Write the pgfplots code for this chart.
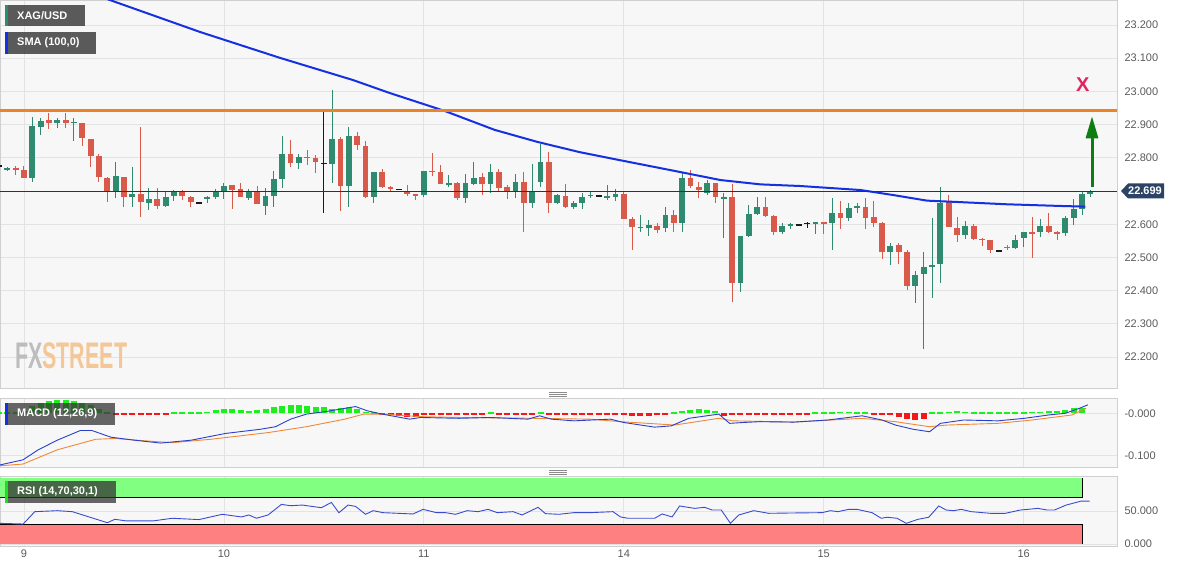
\documentclass[border=0pt]{standalone}
\usepackage{fontspec}
\setmainfont{Liberation Sans}
\usepackage{pgfplots}
\pgfplotsset{compat=1.18}
\usepackage{pgfplotstable}
\usetikzlibrary{arrows.meta}

\definecolor{bg}{HTML}{F7F7F7}
\definecolor{gridc}{HTML}{E3E3E3}
\definecolor{axc}{HTML}{CFCFCF}
\definecolor{cup}{HTML}{2E8B6F}
\definecolor{cdn}{HTML}{D9594A}
\definecolor{cneu}{HTML}{1A1A1A}
\definecolor{smac}{HTML}{1530E0}
\definecolor{orl}{HTML}{EB8429}
\definecolor{navy}{HTML}{1E3556}
\definecolor{lblbox}{HTML}{2B4465}
\definecolor{tickc}{HTML}{5A5A5A}
\definecolor{hgreen}{HTML}{1CF01C}
\definecolor{hred}{HTML}{F01818}
\definecolor{macdb}{HTML}{2A3FCC}
\definecolor{macdo}{HTML}{F0883A}
\definecolor{rsib}{HTML}{3A4BD0}
\definecolor{rsigreen}{HTML}{80FF80}
\definecolor{rsired}{HTML}{FF8080}
\definecolor{boxc}{HTML}{333333}
\definecolor{xmark}{HTML}{E0245E}
\definecolor{arrowg}{HTML}{0E7E12}
\definecolor{stripeg}{HTML}{22DD22}
\definecolor{handlec}{HTML}{8C8C8C}
\definecolor{wmgray}{HTML}{BDBDBD}
\definecolor{wmorange}{HTML}{F3C797}

\pgfplotstableread{
k o h l c
-3 22.776 22.779 22.773 22.776
-2 22.765 22.772 22.760 22.768
-1 22.768 22.775 22.748 22.764
0 22.763 22.776 22.738 22.740
1 22.738 22.922 22.726 22.896
2 22.894 22.919 22.868 22.912
3 22.914 22.934 22.886 22.904
4 22.906 22.919 22.889 22.914
5 22.914 22.934 22.889 22.906
6 22.905 22.919 22.852 22.908
7 22.904 22.906 22.836 22.859
8 22.856 22.856 22.773 22.806
9 22.805 22.811 22.728 22.741
10 22.738 22.743 22.668 22.701
11 22.696 22.788 22.678 22.745
12 22.743 22.743 22.651 22.683
13 22.683 22.771 22.653 22.691
14 22.691 22.894 22.621 22.668
15 22.665 22.708 22.643 22.676
16 22.676 22.708 22.645 22.655
17 22.655 22.698 22.651 22.683
18 22.685 22.703 22.671 22.698
19 22.698 22.703 22.673 22.685
20 22.681 22.685 22.651 22.668
21 22.665 22.665 22.665 22.665
22 22.677 22.684 22.665 22.683
23 22.683 22.705 22.675 22.698
24 22.698 22.725 22.675 22.715
25 22.717 22.717 22.645 22.703
26 22.705 22.725 22.681 22.681
27 22.678 22.705 22.673 22.700
28 22.700 22.715 22.660 22.660
29 22.655 22.708 22.628 22.685
30 22.685 22.761 22.653 22.735
31 22.735 22.866 22.708 22.811
32 22.811 22.854 22.773 22.785
33 22.785 22.811 22.765 22.803
34 22.803 22.823 22.778 22.799
35 22.799 22.808 22.753 22.787
36 22.783 22.946 22.633 22.783
37 22.781 23.004 22.725 22.856
38 22.856 22.862 22.641 22.715
39 22.715 22.892 22.653 22.866
40 22.866 22.879 22.823 22.839
41 22.836 22.852 22.678 22.681
42 22.681 22.756 22.663 22.756
43 22.756 22.765 22.708 22.713
44 22.713 22.715 22.698 22.707
45 22.705 22.705 22.705 22.705
46 22.701 22.718 22.685 22.691
47 22.691 22.691 22.673 22.687
48 22.687 22.761 22.683 22.761
49 22.761 22.813 22.745 22.758
50 22.756 22.778 22.720 22.720
51 22.720 22.748 22.711 22.723
52 22.723 22.728 22.673 22.680
53 22.680 22.750 22.665 22.723
54 22.721 22.786 22.718 22.740
55 22.741 22.755 22.688 22.721
56 22.721 22.781 22.693 22.758
57 22.758 22.765 22.701 22.708
58 22.711 22.718 22.675 22.698
59 22.698 22.751 22.678 22.728
60 22.728 22.758 22.577 22.665
61 22.665 22.780 22.648 22.698
62 22.728 22.842 22.711 22.788
63 22.788 22.818 22.635 22.665
64 22.665 22.691 22.661 22.688
65 22.686 22.721 22.648 22.653
66 22.651 22.671 22.645 22.663
67 22.665 22.693 22.645 22.683
68 22.685 22.698 22.678 22.688
69 22.686 22.686 22.686 22.686
70 22.682 22.718 22.673 22.684
71 22.683 22.705 22.671 22.690
72 22.690 22.696 22.615 22.615
73 22.615 22.623 22.524 22.593
74 22.589 22.628 22.577 22.593
75 22.588 22.613 22.564 22.598
76 22.595 22.605 22.575 22.583
77 22.588 22.651 22.577 22.628
78 22.628 22.642 22.577 22.605
79 22.605 22.753 22.577 22.740
80 22.740 22.763 22.708 22.715
81 22.713 22.728 22.678 22.703
82 22.693 22.733 22.688 22.723
83 22.723 22.725 22.665 22.681
84 22.678 22.693 22.560 22.681
85 22.683 22.721 22.367 22.422
86 22.422 22.564 22.397 22.564
87 22.564 22.658 22.562 22.631
88 22.631 22.681 22.628 22.653
89 22.653 22.681 22.621 22.625
90 22.625 22.628 22.567 22.577
91 22.577 22.603 22.570 22.595
92 22.597 22.605 22.585 22.600
93 22.598 22.598 22.598 22.598
94 22.603 22.608 22.588 22.603
95 22.603 22.608 22.570 22.606
96 22.606 22.606 22.570 22.603
97 22.605 22.678 22.524 22.633
98 22.633 22.671 22.585 22.618
99 22.618 22.663 22.611 22.648
100 22.651 22.665 22.635 22.655
101 22.653 22.678 22.585 22.618
102 22.621 22.671 22.591 22.605
103 22.605 22.608 22.494 22.517
104 22.517 22.544 22.477 22.534
105 22.537 22.544 22.480 22.517
106 22.517 22.522 22.402 22.414
107 22.414 22.460 22.364 22.447
108 22.450 22.517 22.226 22.470
109 22.472 22.618 22.377 22.477
110 22.480 22.711 22.422 22.665
111 22.671 22.688 22.591 22.591
112 22.590 22.623 22.547 22.567
113 22.567 22.611 22.557 22.595
114 22.595 22.601 22.552 22.557
115 22.557 22.560 22.534 22.554
116 22.552 22.552 22.512 22.522
117 22.520 22.520 22.520 22.520
118 22.532 22.539 22.524 22.529
119 22.530 22.567 22.524 22.552
120 22.559 22.577 22.532 22.576
121 22.576 22.621 22.497 22.573
122 22.577 22.615 22.562 22.595
123 22.595 22.633 22.573 22.576
124 22.576 22.580 22.552 22.573
125 22.575 22.625 22.564 22.620
126 22.620 22.675 22.598 22.645
127 22.646 22.698 22.628 22.690
128 22.690 22.703 22.681 22.699
}\candles

\pgfplotstableread{
k v
-3 0.003
-2 0.003
-1 0.003
0 0.006
1 0.018
2 0.025
3 0.030
4 0.032
5 0.032
6 0.029
7 0.025
8 0.020
9 0.010
10 0.003
11 -0.003
12 -0.003
13 -0.003
14 -0.004
15 -0.004
16 -0.004
17 -0.003
18 0.003
19 0.003
20 0.003
21 0.003
22 0.004
23 0.008
24 0.010
25 0.010
26 0.008
27 0.006
28 0.008
29 0.010
30 0.016
31 0.018
32 0.020
33 0.020
34 0.018
35 0.016
36 0.014
37 0.010
38 0.012
39 0.014
40 0.010
41 0.004
42 0.003
43 -0.003
44 -0.004
45 -0.006
46 -0.009
47 -0.008
48 -0.004
49 -0.003
50 -0.003
51 -0.003
52 -0.003
53 -0.003
54 -0.003
55 -0.003
56 0.003
57 -0.003
58 -0.003
59 -0.003
60 -0.003
61 -0.003
62 0.003
63 -0.003
64 -0.003
65 -0.003
66 -0.003
67 -0.003
68 -0.003
69 -0.003
70 -0.003
71 -0.003
72 -0.005
73 -0.006
74 -0.006
75 -0.006
76 -0.005
77 -0.004
78 0.003
79 0.006
80 0.008
81 0.010
82 0.009
83 0.006
84 -0.006
85 -0.005
86 -0.004
87 -0.003
88 -0.003
89 -0.003
90 -0.003
91 -0.003
92 -0.003
93 -0.003
94 -0.003
95 0.003
96 0.003
97 0.003
98 0.004
99 0.004
100 0.003
101 0.003
102 -0.003
103 -0.003
104 -0.005
105 -0.009
106 -0.014
107 -0.015
108 -0.014
109 0.003
110 0.003
111 0.004
112 0.005
113 0.004
114 0.003
115 0.003
116 0.003
117 0.003
118 0.003
119 0.003
120 0.003
121 0.004
122 0.004
123 0.005
124 0.006
125 0.008
126 0.013
127 0.013
}\hist

\pgfplotsset{
  panel/.style={scale only axis, width=1117pt, xmin=-2.88, xmax=131.2,
    axis background/.style={fill=bg}, axis line style={draw=axc},
    major tick length=0pt, xtick={0,24,48,72,96,120}, xticklabels={},
    xmajorgrids, ymajorgrids, grid style={draw=gridc, line width=0.8pt},
    yticklabel pos=right,
    yticklabel style={font=\fontsize{11}{13}\selectfont, text=tickc, anchor=west, xshift=4pt},
    xticklabel style={font=\fontsize{11}{13}\selectfont, text=tickc}},
  candle/.style 2 args={draw=none, mark=none, forget plot,
    error bars/y dir=both, error bars/y explicit, error bars/error mark=none,
    error bars/error bar style={draw=#1, line width=#2, line cap=butt}},
  upf/.style={restrict expr to domain={\thisrow{c}-\thisrow{o}}{0.0005:10}},
  dnf/.style={restrict expr to domain={\thisrow{c}-\thisrow{o}}{-10:-0.0005}},
  neuf/.style={restrict expr to domain={abs(\thisrow{c}-\thisrow{o})}{0:0.0004}},
}

\begin{document}
\begin{tikzpicture}
\useasboundingbox (0pt,0pt) rectangle (1182pt,571pt);

% ---------------- main price panel ----------------
\begin{axis}[panel, at={(0pt,183pt)}, anchor=south west, height=388pt,
  ymin=22.107, ymax=23.275,
  ytick={22.2,22.3,22.4,22.5,22.6,22.7,22.8,22.9,23.0,23.1,23.2},
  yticklabels={22.200,22.300,22.400,22.500,22.600,,22.800,22.900,23.000,23.100,23.200}]
% wicks
\addplot[candle={cup}{1pt}, upf] table[x=k, y expr={(\thisrow{h}+\thisrow{l})/2}, y error expr={(\thisrow{h}-\thisrow{l})/2}] {\candles};
\addplot[candle={cdn}{1pt}, dnf] table[x=k, y expr={(\thisrow{h}+\thisrow{l})/2}, y error expr={(\thisrow{h}-\thisrow{l})/2}] {\candles};
\addplot[candle={cneu}{1pt}, neuf] table[x=k, y expr={(\thisrow{h}+\thisrow{l})/2}, y error expr={(\thisrow{h}-\thisrow{l})/2}] {\candles};
% bodies
\addplot[candle={cup}{5.8pt}, upf] table[x=k, y expr={(\thisrow{o}+\thisrow{c})/2}, y error expr={max(abs(\thisrow{c}-\thisrow{o})/2,0.0016)}] {\candles};
\addplot[candle={cdn}{5.8pt}, dnf] table[x=k, y expr={(\thisrow{o}+\thisrow{c})/2}, y error expr={max(abs(\thisrow{c}-\thisrow{o})/2,0.0016)}] {\candles};
\addplot[candle={cneu}{5.8pt}, neuf] table[x=k, y expr={(\thisrow{o}+\thisrow{c})/2}, y error expr={max(abs(\thisrow{c}-\thisrow{o})/2,0.0016)}] {\candles};
% SMA 100
\addplot[smac, line width=2pt, mark=none] coordinates {
(-2.9,23.393) (10.3,23.275) (21.1,23.179) (30.7,23.101) (39.5,23.034) (43.9,22.995)
(50.5,22.941) (56.5,22.884) (61.6,22.848) (66.7,22.817) (71.5,22.793) (78.8,22.757)
(83.6,22.733) (88.4,22.720) (93.2,22.715) (100.4,22.703) (104.3,22.688) (108.4,22.671)
(112,22.667) (118,22.660) (124.4,22.655) (127.4,22.653)};
% resistance
\addplot[orl, line width=3pt, mark=none] coordinates {(-2.88,22.941) (131.2,22.941)};
% last price line
\addplot[navy, line width=1pt, mark=none] coordinates {(-2.88,22.699) (131.2,22.699)};
\node[text=xmark, font=\fontsize{20}{24}\selectfont\bfseries] at (axis cs:127.1,23.019) {X};
\draw[arrowg, line width=3pt, -{Triangle[width=12pt,length=22pt]}] (axis cs:128.2,22.712) -- (axis cs:128.2,22.925);
\end{axis}

% ---------------- MACD panel ----------------
\begin{axis}[panel, at={(0pt,104pt)}, anchor=south west, height=69pt,
  ymin=-0.128, ymax=0.0364, ytick={-0.1,0}, yticklabels={-0.100,-0.000}]
\addplot[candle={hgreen}{6pt}, restrict expr to domain={\thisrow{v}}{0:1}] table[x=k, y expr={\thisrow{v}/2}, y error expr={abs(\thisrow{v})/2}] {\hist};
\addplot[candle={hred}{6pt}, restrict expr to domain={\thisrow{v}}{-1:0}] table[x=k, y expr={\thisrow{v}/2}, y error expr={abs(\thisrow{v})/2}] {\hist};
\addplot[macdo, line width=0.9pt, mark=none] coordinates {
(-2.88,-0.125) (-0.13,-0.121) (4.0,-0.087) (8.6,-0.062) (10.9,-0.060) (15.5,-0.067)
(17.8,-0.070) (22.4,-0.062) (29.3,-0.046) (33.9,-0.032) (38.5,-0.014) (40.8,-0.002)
(43.1,-0.002) (47.6,-0.008) (52.2,-0.010) (61.4,-0.012) (67.95,-0.014) (71.6,-0.020)
(78.1,-0.028) (83.4,-0.012) (85.1,-0.018) (92.4,-0.021) (100.6,-0.012) (104.6,-0.020)
(108.7,-0.032) (110.8,-0.028) (116.9,-0.024) (121.0,-0.016) (125.8,-0.004) (127.5,0.012)};
\addplot[macdb, line width=0.9pt, mark=none] coordinates {
(-2.88,-0.123) (-0.13,-0.111) (1.71,-0.087) (4.01,-0.064) (6.77,-0.041) (8.14,-0.041)
(10.44,-0.057) (13.2,-0.064) (16.4,-0.071) (20.1,-0.064) (24.2,-0.048) (28.4,-0.038)
(30.2,-0.032) (32.0,-0.014) (33.9,-0.002) (36.2,0.004) (38.0,0.010) (39.8,0.016)
(41.2,0.006) (43.0,-0.002) (46.3,-0.014) (47.6,-0.010) (52.2,-0.012) (55.9,-0.010)
(60.5,-0.014) (61.9,-0.006) (63.3,-0.014) (66.0,-0.018) (70.4,-0.014) (72.0,-0.022)
(75.7,-0.033) (77.7,-0.030) (79.8,-0.012) (83.4,-0.002) (84.7,-0.024) (86.3,-0.022)
(88.3,-0.020) (92.4,-0.021) (96.5,-0.016) (100.6,-0.006) (103.0,-0.016) (104.6,-0.028)
(106.7,-0.038) (108.7,-0.044) (110.0,-0.024) (112.8,-0.016) (116.9,-0.018) (120.1,-0.012)
(123.0,-0.004) (125.0,0.000) (126.7,0.012) (127.7,0.020)};
\end{axis}

% ---------------- RSI panel ----------------
\begin{axis}[panel, at={(0pt,25pt)}, anchor=south west, height=70pt,
  ymin=-3, ymax=103, ytick={0,50}, yticklabels={0.000,50.000},
  xticklabels={9,10,11,14,15,16}]
\fill[rsigreen] (axis cs:-2.88,70) rectangle (axis cs:127,100);
\draw[black, line width=0.9pt] (axis cs:-2.88,70) -- (axis cs:127,70) -- (axis cs:127,100);
\fill[rsired] (axis cs:-2.88,0) rectangle (axis cs:127,30);
\draw[black, line width=0.9pt] (axis cs:127,0) -- (axis cs:127,30) -- (axis cs:-2.88,30);
\addplot[rsib, line width=0.9pt, mark=none] coordinates {
(-2.88,31.3) (-0.1,30.3) (1.3,49) (4.0,50.5) (5.8,49) (10.0,32.3) (10.9,37.4) (12.3,35)
(15.5,35) (17.8,39) (21.0,37) (23.8,45) (26.1,41) (27.0,44) (27.9,39) (29.3,44) (30.9,60)
(32.0,58) (33.4,59) (35.7,55) (36.9,63) (37.8,47.4) (38.9,59) (39.8,57) (41.0,45)
(41.9,50.5) (43.1,47.5) (46.7,45.5) (47.9,52.5) (49.5,47.5) (50.6,47.5) (51.8,45)
(53.2,50.5) (54.5,49) (55.7,52.5) (56.8,47.5) (58.7,49) (59.8,44) (61.7,55.6) (62.6,46)
(64.2,45) (66.0,47.5) (67.95,47.5) (70.7,49) (71.6,41) (72.5,39) (75.7,39) (76.6,45.5)
(77.8,41) (78.7,57.6) (80.5,54) (81.7,55.6) (82.6,51.5) (83.7,51.5) (84.8,31.3) (85.8,44)
(87.6,50.5) (89.4,46.5) (92.2,47) (95.8,47.5) (96.8,50.5) (97.7,49) (99.0,52.5) (100.0,52.5)
(101.8,47.5) (102.9,39) (103.6,40.5) (104.8,39) (105.9,31.3) (107.3,37.4) (108.6,40.5)
(109.8,57.6) (110.7,51.5) (111.6,50.5) (112.5,52.5) (113.7,49) (116.0,46.5) (117.8,46.5)
(119.6,51.5) (120.5,52.5) (121.7,54) (122.8,51.5) (123.7,51.5) (125.1,59) (126.9,65) (127.9,65)};
\end{axis}

% ---------------- labels and decorations ----------------
\node[anchor=west, xscale=0.58, font=\fontsize{37}{40}\selectfont\bfseries, inner sep=0pt] at (15pt,215pt)
  {\textcolor{wmgray}{FX}\textcolor{wmorange}{STREET}};
\fill[boxc, fill opacity=0.8] (5pt,566pt) rectangle (85pt,545pt);
\fill[cup] (5pt,566pt) rectangle (7.5pt,545pt);
\node[anchor=west, text=white, font=\fontsize{11}{13}\selectfont\bfseries, inner sep=0pt] at (17pt,555.5pt) {XAG/USD};
\fill[boxc, fill opacity=0.8] (5pt,539pt) rectangle (96pt,517pt);
\fill[smac] (5pt,539pt) rectangle (7.5pt,517pt);
\node[anchor=west, text=white, font=\fontsize{11}{13}\selectfont\bfseries, inner sep=0pt] at (17pt,528pt) {SMA (100,0)};
\fill[boxc, fill opacity=0.75] (5pt,168pt) rectangle (115pt,146pt);
\fill[smac] (5pt,168pt) rectangle (7.5pt,146pt);
\node[anchor=west, text=white, font=\fontsize{11}{13}\selectfont\bfseries, inner sep=0pt] at (17pt,157pt) {MACD (12,26,9)};
\fill[boxc, fill opacity=0.75] (5pt,90pt) rectangle (116pt,68pt);
\fill[stripeg] (5pt,90pt) rectangle (7.5pt,68pt);
\node[anchor=west, text=white, font=\fontsize{11}{13}\selectfont\bfseries, inner sep=0pt] at (17pt,79pt) {RSI (14,70,30,1)};
\fill[lblbox] (1121pt,380pt) -- (1128pt,387.5pt) -- (1164pt,387.5pt) -- (1164pt,372.5pt) -- (1128pt,372.5pt) -- cycle;
\node[text=white, font=\fontsize{11}{13}\selectfont\bfseries, inner sep=0pt] at (1145pt,380pt) {22.699};
\foreach \yy in {175,177,179} \draw[handlec, line width=0.6pt] (549pt,\yy pt) -- (567pt,\yy pt);
\foreach \yy in {97,99,101} \draw[handlec, line width=0.6pt] (549pt,\yy pt) -- (567pt,\yy pt);
\end{tikzpicture}
\end{document}
